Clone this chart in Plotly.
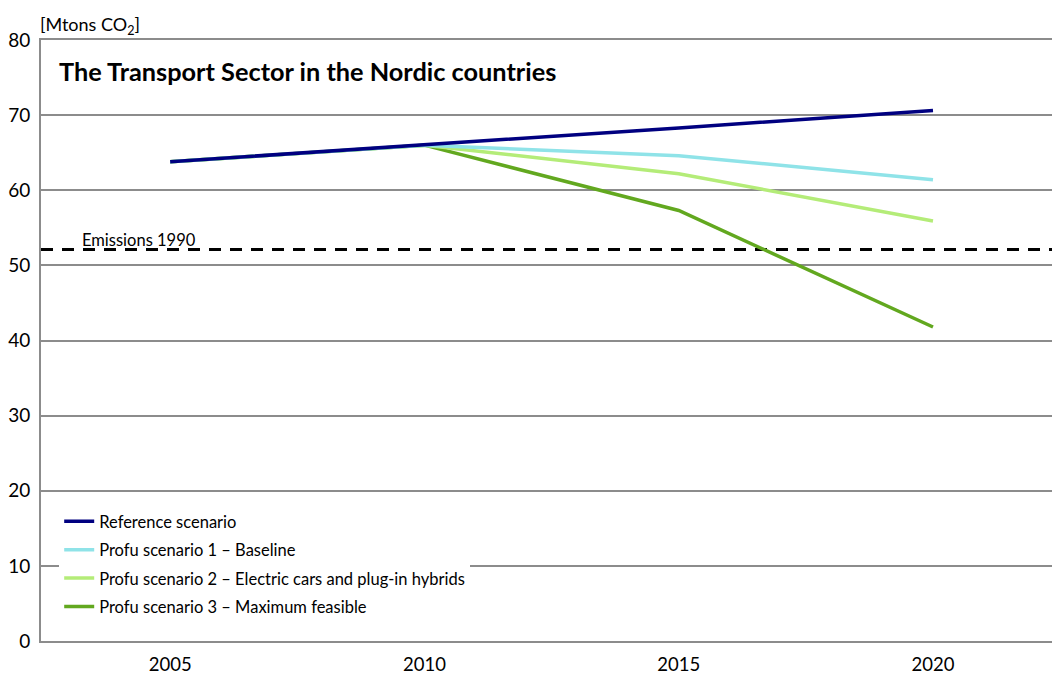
import plotly.graph_objects as go

years = [2005, 2010, 2015, 2020]
reference = [63.8, 66.0, 68.3, 70.6]
profu1 = [63.8, 66.0, 64.6, 61.4]
profu2 = [63.8, 66.0, 62.2, 55.9]
profu3 = [63.8, 66.0, 57.3, 41.8]
emissions_1990 = 52.1
y_ticks = [0, 10, 20, 30, 40, 50, 60, 70, 80]

names = ["Reference scenario",
         "Profu scenario 1 \u2013 Baseline",
         "Profu scenario 2 \u2013 Electric cars and plug-in hybrids",
         "Profu scenario 3 \u2013 Maximum feasible"]
colors = ["#000080", "#8fe3e8", "#b4ec78", "#62a81f"]

FONT = "Lato, 'Open Sans', sans-serif"

fig = go.Figure()

x_range = [2002.46, 2022.34]
fig.add_trace(go.Scatter(x=x_range, y=[emissions_1990, emissions_1990], mode="lines",
                         line=dict(color="black", width=3, dash="12px,9px"),
                         showlegend=False, hoverinfo="skip"))

all_series = [reference, profu1, profu2, profu3]
for i in [3, 2, 1, 0]:
    fig.add_trace(go.Scatter(x=years, y=all_series[i], mode="lines", name=names[i],
                             legendgroup=f"g{i}",
                             line=dict(color=colors[i], width=3.5),
                             legendrank=i + 1))

fig.update_layout(
    width=1052, height=675,
    margin=dict(l=41, r=0, t=40, b=34),
    plot_bgcolor="white", paper_bgcolor="white",
    font=dict(family=FONT, color="black"),
    xaxis=dict(range=x_range, tickmode="array", tickvals=years,
               ticktext=[str(y) for y in years], showgrid=False,
               zeroline=False, showline=True, mirror=True,
               linecolor="#8c8c8c", linewidth=2, automargin=False,
               ticklabelstandoff=6,
               tickfont=dict(size=18.5, family=FONT), ticks=""),
    yaxis=dict(range=[0, 80], tickmode="array", tickvals=y_ticks,
               showgrid=True, gridcolor="#8c8c8c", gridwidth=2,
               zeroline=False, showline=True, linecolor="#8c8c8c", linewidth=2,
               automargin=False, ticklabelstandoff=5,
               tickfont=dict(size=19, family=FONT), ticks="", ticklen=0),
    legend=dict(x=0.018, y=0.228, xanchor="left", yanchor="top",
                bgcolor="white", font=dict(size=16.5, family=FONT),
                tracegroupgap=4, itemwidth=30, traceorder="grouped"),
    showlegend=True,
)

fig.add_annotation(xref="paper", yref="paper", x=0.016, y=0.948,
                   xanchor="left", yanchor="middle", showarrow=False,
                   text="<b>The Transport Sector in the Nordic countries</b>",
                   font=dict(size=25.3, family=FONT, color="black"))
fig.add_annotation(xref="paper", yref="paper", x=-0.003, y=1.0,
                   xanchor="left", yanchor="bottom", showarrow=False,
                   text="[Mtons CO<sub>2</sub>]",
                   font=dict(size=18, family=FONT, color="black"))
fig.add_annotation(xref="paper", yref="y", x=0.039, y=emissions_1990,
                   xanchor="left", yanchor="bottom", showarrow=False,
                   text="Emissions 1990", yshift=-2,
                   font=dict(size=16.5, family=FONT, color="black"))

fig.write_html("out.html", config={"displayModeBar": False},
               post_script="document.body.style.margin='0';document.body.style.overflow='hidden';")
